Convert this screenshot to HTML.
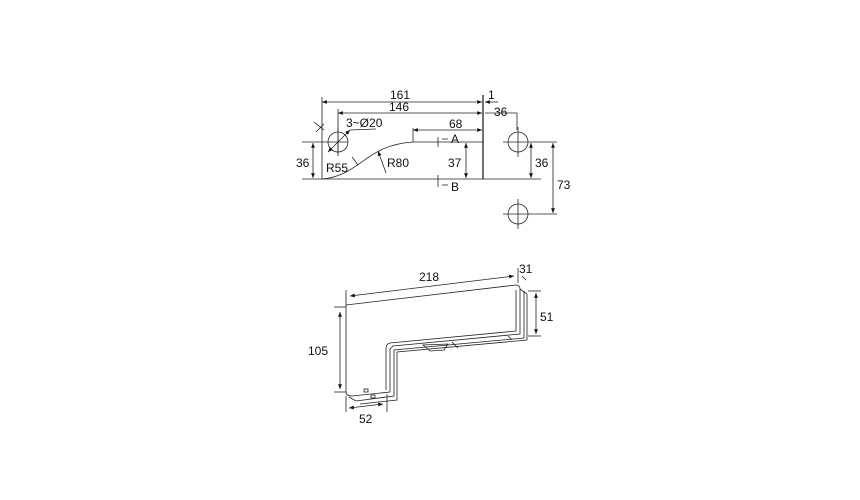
<!DOCTYPE html>
<html><head><style>body{margin:0;background:#fff}svg{display:block}text{font-family:"Liberation Sans",sans-serif;font-size:12px;fill:#111}</style></head>
<body>
<svg width="860" height="500" viewBox="0 0 860 500" xmlns="http://www.w3.org/2000/svg">
<defs><marker id="a" viewBox="0 0 10 10" refX="10" refY="5" markerWidth="8" markerHeight="6" orient="auto-start-reverse"><path d="M0,1 L10,5 L0,9z" fill="#111"/></marker></defs>
<g stroke="#222" stroke-width="0.8" fill="none">
<line x1="322" y1="97" x2="322" y2="179"/>
<line x1="338" y1="109" x2="338" y2="154"/>
<line x1="322" y1="102" x2="482" y2="102" marker-start="url(#a)" marker-end="url(#a)"/>
<line x1="338" y1="113" x2="482" y2="113" marker-start="url(#a)" marker-end="url(#a)"/>
<line x1="483" y1="95" x2="483" y2="179" stroke-width="1.3"/>
<line x1="485" y1="102" x2="498" y2="102" marker-start="url(#a)"/>
<line x1="485" y1="113" x2="517" y2="113"/>
<line x1="517" y1="113" x2="517" y2="130"/>
<line x1="413" y1="130" x2="482" y2="130" marker-start="url(#a)" marker-end="url(#a)"/>
<line x1="413" y1="128" x2="413" y2="142"/>
<line x1="413" y1="142" x2="483" y2="142"/>
<line x1="302" y1="142" x2="348" y2="142"/>
<line x1="302" y1="179" x2="483" y2="179"/>
<line x1="483" y1="179" x2="541" y2="179"/>
<path d="M322,179 C360,176 365,145 413,142"/>
<circle cx="338" cy="142" r="10"/>
<line x1="338" y1="128" x2="338" y2="156"/>
<line x1="314" y1="122" x2="324" y2="130"/><line x1="316" y1="132" x2="324" y2="124"/>
<line x1="328" y1="152" x2="350" y2="130" marker-start="url(#a)" marker-end="url(#a)"/>
<line x1="350" y1="130" x2="376" y2="129"/>
<line x1="313" y1="143" x2="313" y2="178" marker-start="url(#a)" marker-end="url(#a)"/>
<line x1="466" y1="143" x2="466" y2="178" marker-start="url(#a)" marker-end="url(#a)"/>
<line x1="352" y1="157" x2="358" y2="165"/>
<line x1="386" y1="173" x2="378" y2="151" marker-end="url(#a)"/>
<line x1="438" y1="137" x2="438" y2="147"/><line x1="442" y1="139" x2="448" y2="139"/>
<line x1="438" y1="175" x2="438" y2="187"/><line x1="442" y1="185" x2="448" y2="185"/>
<circle cx="518" cy="142" r="10"/><circle cx="518" cy="214" r="10"/>
<line x1="518" y1="127" x2="518" y2="157"/><line x1="503" y1="142" x2="557" y2="142"/>
<line x1="518" y1="199" x2="518" y2="229"/><line x1="503" y1="214" x2="557" y2="214"/>
<line x1="531" y1="143" x2="531" y2="178" marker-start="url(#a)" marker-end="url(#a)"/>
<line x1="553" y1="143" x2="553" y2="213" marker-start="url(#a)" marker-end="url(#a)"/>
<path d="M346,305 L516,285 Q520,285 520,289 L520,334 L393,346 L390,349 L390,392 L352,396 Q346,396 346,392 Z"/>
<path d="M516,290 L516,331 L390,343 Q386,344 386,348 L386,390"/>
<path d="M524,291 L524,338 L394,350 L394,396 L356,401"/>
<path d="M527,294 L527,340 L397,352 L397,400 L360,404"/>
<line x1="349" y1="397" x2="356" y2="401"/>
<line x1="520" y1="289" x2="527" y2="294"/>
<path d="M423,345 L430,351 L444,350 L448,344 Z"/>
<line x1="452" y1="342" x2="458" y2="348"/><line x1="508" y1="336" x2="512" y2="340"/>
<rect x="364" y="389" width="4" height="3"/><rect x="371" y="395" width="4" height="3"/>
<line x1="346" y1="290" x2="346" y2="305"/>
<line x1="518" y1="268" x2="518" y2="283"/>
<line x1="350" y1="296" x2="514" y2="276" marker-start="url(#a)" marker-end="url(#a)"/>
<line x1="522" y1="276" x2="526" y2="280"/>
<line x1="334" y1="307" x2="346" y2="307"/><line x1="334" y1="392" x2="346" y2="392"/>
<line x1="340" y1="312" x2="340" y2="389" marker-start="url(#a)" marker-end="url(#a)"/>
<line x1="528" y1="291" x2="541" y2="291"/><line x1="528" y1="336" x2="541" y2="336"/>
<line x1="536" y1="293" x2="536" y2="334" marker-start="url(#a)" marker-end="url(#a)"/>
<line x1="346" y1="396" x2="346" y2="412"/><line x1="387" y1="394" x2="387" y2="412"/>
<line x1="349" y1="408" x2="383" y2="404" marker-start="url(#a)" marker-end="url(#a)"/>
</g>
<text x="390" y="99">161</text><text x="389" y="111">146</text>
<text x="488" y="99">1</text><text x="494" y="116">36</text>
<text x="346" y="127">3~Ø20</text><text x="449" y="128">68</text>
<text x="451" y="143">A</text><text x="451" y="191">B</text>
<text x="296" y="167">36</text><text x="326" y="172">R55</text><text x="387" y="167">R80</text>
<text x="448" y="167">37</text><text x="535" y="167">36</text><text x="557" y="189">73</text>
<text x="419" y="281">218</text><text x="519" y="273">31</text>
<text x="308" y="355">105</text><text x="540" y="321">51</text><text x="359" y="423">52</text>
</svg>
</body></html>
